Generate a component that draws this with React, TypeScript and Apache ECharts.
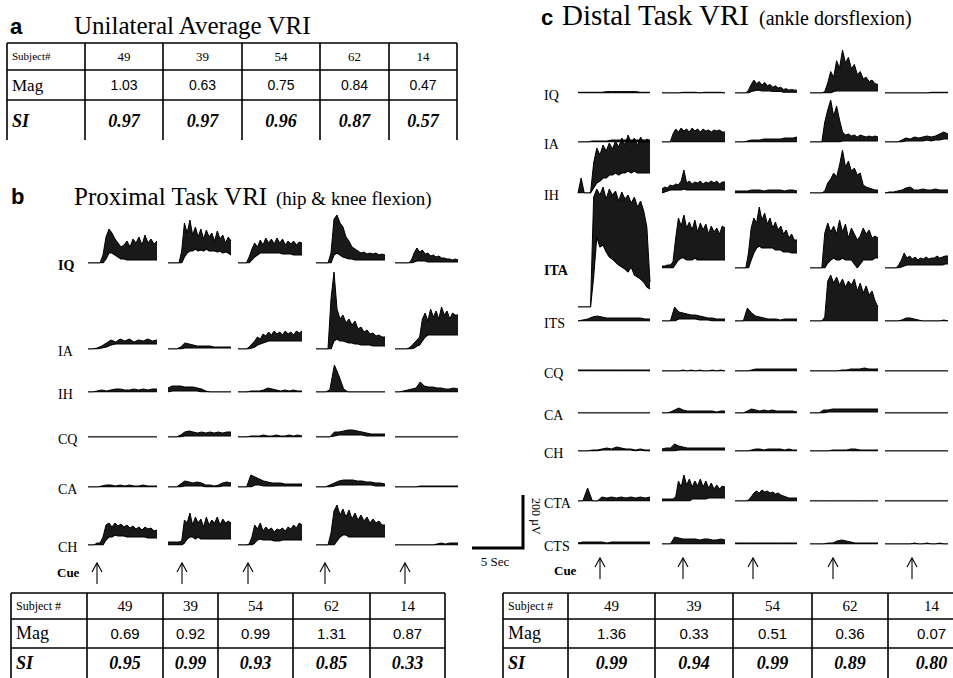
import React, { useEffect, useRef } from "react";
import * as echarts from "echarts";

// ---------- table values ----------
const SUBJECTS = ["49", "39", "54", "62", "14"];
const A_MAG = ["1.03", "0.63", "0.75", "0.84", "0.47"];
const A_SI = ["0.97", "0.97", "0.96", "0.87", "0.57"];
const B_MAG = ["0.69", "0.92", "0.99", "1.31", "0.87"];
const B_SI = ["0.95", "0.99", "0.93", "0.85", "0.33"];
const C_MAG = ["1.36", "0.33", "0.51", "0.36", "0.07"];
const C_SI = ["0.99", "0.94", "0.99", "0.89", "0.80"];

// ---------- EMG envelopes (upper / lower edge of each trace; 52 units = 200 µV) ----------
// Proximal task (hip & knee flexion); one array per subject 49, 39, 54, 62, 14
const P_IQ_HI = [
  [0, 0, 0, 0, 0, 8, 26, 34, 30, 24, 20, 16, 18, 22, 16, 24, 20, 26, 18, 28, 20, 24, 19, 22],
  [0, 0, 0, 0, 0, 12, 40, 30, 43, 28, 36, 26, 34, 24, 33, 26, 30, 22, 32, 24, 28, 20, 26, 22],
  [0, 0, 0, 0, 6, 14, 20, 16, 23, 18, 25, 20, 24, 19, 25, 20, 24, 18, 22, 19, 22, 18, 21, 20],
  [0, 0, 0, 0, 0, 10, 44, 48, 40, 36, 26, 22, 16, 14, 12, 10, 11, 9, 10, 9, 10, 8, 9, 8],
  [0, 0, 0, 0, 0, 0, 3, 10, 15, 11, 13, 9, 10, 7, 8, 6, 7, 5, 5, 4, 4, 3, 4, 3],
];
const P_IQ_LO = [
  [0, 0, 0, 0, 0, 0, 4, 10, 10, 8, 6, 4, 4, 3, 3, 3, 3, 3, 3, 3, 3, 3, 3, 3],
  [0, 0, 0, 0, 0, 0, 6, 10, 12, 12, 14, 12, 13, 12, 14, 12, 12, 12, 11, 12, 10, 11, 10, 8],
  [0, 0, 0, 0, 0, 3, 6, 8, 10, 10, 10, 10, 10, 10, 10, 10, 9, 9, 9, 9, 8, 8, 8, 8],
  [0, 0, 0, 0, 0, 0, 8, 10, 8, 6, 5, 4, 4, 3, 3, 3, 3, 3, 3, 3, 3, 3, 3, 3],
  [0, 0, 0, 0, 0, 0, 0, 1, 2, 2, 2, 2, 1, 1, 1, 1, 1, 1, 1, 1, 1, 1, 1, 1],
];
const P_IA_HI = [
  [0, 0, 1, 3, 6, 9, 7, 10, 8, 10, 7, 9, 8, 10, 8, 9],
  [0, 0, 0, 2, 6, 5, 4, 3, 3, 3, 3, 2, 2, 2, 2, 2],
  [0, 0, 0, 0, 2, 5, 8, 12, 10, 15, 13, 17, 14, 18, 15, 17, 14, 18, 15, 17, 14, 18, 16, 18],
  [0, 0, 0, 0, 0, 50, 77, 40, 30, 34, 26, 30, 24, 28, 20, 22, 17, 19, 15, 16, 13, 14, 12, 12],
  [0, 0, 0, 0, 0, 1, 3, 6, 9, 12, 30, 36, 28, 40, 32, 38, 30, 42, 34, 38, 30, 36, 34, 34],
];
const P_IA_LO = [
  [0, 0, 0, 1, 2, 4, 5, 5, 5, 5, 5, 5, 5, 5, 5, 5],
  [0, 0, 0, 0, 1, 1, 1, 1, 1, 1, 1, 1, 1, 1, 1, 1],
  [0, 0, 0, 0, 0, 1, 2, 4, 5, 6, 7, 8, 8, 8, 8, 8, 8, 8, 8, 8, 8, 8, 8, 8],
  [0, 0, 0, 0, 0, 0, 8, 10, 8, 8, 7, 6, 6, 5, 5, 4, 4, 4, 4, 3, 3, 3, 3, 3],
  [0, 0, 0, 0, 0, 0, 0, 1, 3, 4, 8, 12, 14, 14, 14, 14, 14, 14, 14, 14, 14, 14, 14, 14],
];
const P_IH_HI = [
  [0, 0, 1, 2, 1, 2, 3, 3, 2, 2, 3, 2, 3, 2, 3, 3],
  [4, 6, 6, 6, 5, 5, 5, 4, 3, 1, 0, 0, 0, 0, 0, 0],
  [0, 0, 0, 1, 1, 1, 2, 4, 3, 2, 1, 2, 1, 2, 1, 1],
  [0, 0, 0, 2, 27, 16, 3, 0, 0, 0, 0, 0, 0, 0, 0, 0],
  [0, 0, 1, 2, 3, 4, 10, 6, 5, 5, 4, 4, 3, 3, 4, 3],
];
const P_IH_LO = [null, [0, 1, 1, 1, 1, 1, 1, 1, 0, 0, 0, 0, 0, 0, 0, 0], null, null, null];
const P_CQ_HI = [
  [0, 0, 0, 0, 0, 0, 0, 0, 0, 0, 0, 0, 0, 0, 0, 0],
  [0, 0, 0, 2, 5, 6, 5, 4, 5, 4, 5, 4, 5, 4, 5, 5],
  [0, 0, 0, 1, 1, 1, 2, 1, 1, 2, 1, 1, 2, 1, 2, 1],
  [0, 0, 0, 0, 5, 5, 6, 7, 7, 6, 5, 4, 3, 3, 3, 3],
  [0, 0, 0, 0, 0, 0, 0, 0, 0, 0, 0, 0, 0, 0, 0, 0],
];
const P_CQ_LO = [
  null,
  [0, 0, 0, 0, 1, 1, 1, 1, 1, 1, 1, 1, 1, 1, 1, 1],
  null,
  [0, 0, 0, 0, 1, 2, 2, 2, 2, 2, 2, 1, 1, 1, 1, 1],
  null,
];
const P_CA_HI = [
  [0, 0, 0, 1, 2, 2, 1, 2, 1, 2, 1, 1, 2, 1, 1, 1],
  [0, 0, 0, 3, 6, 5, 4, 5, 4, 2, 2, 1, 2, 4, 5, 4],
  [0, 0, 0, 12, 10, 8, 6, 5, 4, 4, 4, 3, 3, 3, 3, 3],
  [0, 0, 0, 2, 4, 6, 7, 7, 7, 6, 6, 5, 5, 4, 4, 3],
  [0, 0, 0, 0, 0, 0, 1, 1, 1, 1, 1, 1, 1, 1, 1, 1],
];
const P_CA_LO = [
  null,
  [0, 0, 0, 0, 1, 1, 1, 1, 1, 0, 0, 0, 0, 1, 1, 1],
  [0, 0, 0, 0, 2, 2, 1, 1, 1, 1, 1, 1, 1, 1, 1, 1],
  [0, 0, 0, 0, 1, 2, 2, 2, 2, 2, 2, 2, 2, 1, 1, 1],
  null,
];
const P_CH_HI = [
  [0, 0, 0, 2, 2, 8, 20, 22, 18, 22, 19, 21, 18, 20, 17, 19, 16, 18, 15, 18, 16, 17, 14, 15],
  [3, 3, 3, 3, 3, 4, 25, 22, 32, 20, 28, 22, 26, 18, 28, 20, 25, 22, 28, 20, 26, 22, 24, 22],
  [0, 0, 0, 0, 1, 8, 20, 16, 22, 14, 18, 15, 17, 13, 16, 15, 17, 14, 18, 16, 20, 17, 22, 20],
  [0, 0, 0, 0, 0, 12, 34, 40, 30, 36, 28, 35, 26, 32, 25, 30, 24, 28, 22, 26, 22, 24, 20, 20],
  [0, 0, 0, 0, 0, 0, 0, 0, 0, 0, 1, 2, 1, 2, 2, 2],
];
const P_CH_LO = [
  [0, 0, 0, 0, 0, 0, 5, 8, 8, 10, 9, 9, 9, 8, 8, 8, 8, 8, 8, 8, 7, 7, 7, 7],
  [0, 0, 0, 0, 0, 0, 2, 6, 8, 8, 6, 8, 6, 6, 6, 6, 6, 6, 6, 6, 6, 6, 6, 6],
  [0, 0, 0, 0, 0, 0, 2, 5, 6, 5, 5, 5, 5, 4, 4, 4, 5, 5, 5, 5, 5, 5, 5, 5],
  [0, 0, 0, 0, 0, 0, 0, 4, 8, 10, 10, 8, 8, 8, 8, 8, 8, 8, 8, 8, 8, 8, 8, 8],
  null,
];

// Distal task (ankle dorsiflexion)
const D_IQ_HI = [
  [1, 1, 1, 1, 1, 1, 2, 2, 2, 2, 2, 2, 2, 1, 1, 1],
  [0, 0, 0, 0, 0, 1, 1, 1, 1, 0, 1, 1, 1, 1, 1, 0],
  [0, 0, 0, 0, 0, 4, 12, 18, 13, 16, 11, 15, 10, 12, 8, 10, 7, 8, 5, 6, 4, 5, 4, 4],
  [0, 0, 0, 0, 0, 2, 14, 30, 22, 45, 35, 60, 42, 50, 34, 40, 26, 30, 20, 22, 16, 18, 13, 12],
  [0, 0, 0, 0, 0, 0, 0, 0, 0, 0, 0, 1, 1, 1, 1, 1],
];
const D_IQ_LO = [
  null,
  null,
  [0, 0, 0, 0, 0, 0, 2, 3, 4, 4, 3, 3, 3, 3, 2, 2, 2, 2, 1, 1, 1, 1, 1, 1],
  [0, 0, 0, 0, 0, 0, 0, 0, 2, 3, 3, 3, 3, 3, 3, 3, 3, 3, 3, 3, 3, 3, 3, 3],
  null,
];
const D_IA_HI = [
  [0, 0, 0, 1, 1, 1, 1, 2, 2, 2, 2, 2, 2, 2, 2, 2],
  [0, 0, 0, 0, 8, 13, 10, 14, 11, 13, 10, 14, 11, 13, 10, 13, 11, 12, 10, 12, 11, 12, 10, 10],
  [0, 0, 0, 1, 2, 2, 2, 3, 3, 3, 3, 3, 4, 4, 4, 5],
  [0, 0, 0, 0, 0, 20, 32, 42, 26, 36, 22, 10, 7, 8, 6, 7, 5, 7, 6, 5, 6, 5, 6, 5],
  [0, 0, 0, 0, 2, 4, 3, 5, 4, 5, 6, 5, 6, 8, 10, 8],
];
const D_IA_LO = [
  null,
  null,
  null,
  [0, 0, 0, 0, 0, 0, 0, 0, 0, 0, 0, 1, 1, 1, 1, 1, 1, 1, 1, 1, 1, 1, 1, 1],
  [0, 0, 0, 0, 0, 1, 1, 1, 1, 1, 2, 1, 2, 2, 3, 3],
];
const D_IH_HI = [
  [0, 15, 0, 0, 0, 30, 45, 38, 48, 42, 50, 44, 52, 46, 55, 48, 58, 50, 55, 48, 56, 50, 54, 52],
  [4, 6, 5, 8, 7, 9, 8, 12, 23, 10, 12, 9, 11, 10, 12, 9, 11, 10, 12, 10, 12, 9, 11, 11],
  [2, 2, 2, 2, 3, 3, 3, 2, 3, 3, 3, 3, 2, 3, 3, 2],
  [0, 0, 0, 0, 0, 2, 10, 14, 20, 16, 28, 43, 26, 32, 22, 25, 18, 20, 8, 6, 5, 4, 3, 3],
  [0, 1, 1, 2, 3, 5, 6, 3, 3, 4, 3, 3, 4, 3, 3, 3],
];
const D_IH_LO = [
  [0, 0, 0, 0, 0, 5, 10, 12, 15, 15, 18, 18, 20, 18, 20, 20, 22, 20, 22, 20, 20, 20, 20, 20],
  [0, 1, 2, 3, 3, 3, 3, 3, 4, 3, 3, 3, 3, 3, 3, 3, 3, 3, 3, 3, 3, 3, 3, 3],
  null,
  null,
  null,
];
const D_ITA_HI = [
  [0, 0, 0, 0, 0, 110, 118, 112, 120, 108, 118, 112, 116, 106, 115, 108, 112, 104, 110, 100, 106, 96, 80, 25],
  [2, 2, 3, 3, 6, 30, 50, 42, 53, 40, 46, 38, 48, 36, 45, 38, 44, 34, 42, 36, 40, 34, 42, 40],
  [0, 0, 0, 0, 0, 15, 40, 50, 45, 61, 48, 55, 44, 50, 40, 46, 38, 42, 34, 38, 30, 34, 28, 28],
  [0, 0, 0, 0, 0, 35, 45, 36, 42, 34, 48, 36, 44, 30, 40, 34, 28, 32, 40, 34, 38, 30, 32, 30],
  [0, 0, 0, 0, 0, 3, 8, 15, 10, 12, 9, 11, 8, 10, 9, 11, 9, 10, 10, 12, 10, 11, 12, 12],
];
const D_ITA_LO = [
  [0, 0, 0, 0, 0, 30, 70, 60, 62, 55, 50, 48, 45, 42, 40, 38, 35, 40, 32, 30, 28, 25, 20, 18],
  [0, 0, 0, 0, 0, 4, 8, 10, 10, 8, 8, 8, 10, 8, 8, 8, 8, 8, 8, 8, 8, 8, 8, 8],
  [0, 0, 0, 0, 0, 0, 8, 15, 20, 22, 20, 20, 20, 20, 20, 18, 18, 18, 16, 16, 16, 15, 15, 15],
  [0, 0, 0, 0, 0, 0, 5, 8, 10, 8, 8, 10, 8, 8, 8, 4, 0, 4, 8, 8, 8, 8, 10, 10],
  [0, 0, 0, 0, 0, 0, 1, 2, 3, 3, 3, 3, 3, 3, 3, 3, 3, 3, 3, 3, 3, 3, 4, 4],
];
const D_ITS_HI = [
  [0, 1, 2, 4, 5, 4, 3, 3, 3, 3, 3, 3, 3, 3, 2, 2],
  [0, 0, 0, 14, 9, 8, 7, 6, 6, 5, 4, 3, 3, 2, 2, 2],
  [0, 0, 0, 13, 8, 5, 4, 3, 2, 2, 2, 1, 2, 2, 2, 2],
  [0, 0, 0, 0, 0, 4, 40, 46, 38, 44, 36, 42, 34, 40, 36, 42, 30, 38, 28, 35, 26, 30, 20, 14],
  [0, 0, 0, 0, 1, 3, 3, 2, 1, 0, 0, 0, 0, 0, 1, 0],
];
const D_ITS_LO = [null, [0, 0, 0, 0, 2, 2, 2, 2, 2, 1, 1, 1, 0, 0, 0, 0], null, null, null];
const D_CQ_HI = [
  [1, 1, 1, 1, 1, 1, 1, 1, 1, 1, 1, 1, 1, 1, 1, 1],
  [0, 0, 0, 0, 0, 1, 0, 1, 0, 1, 0, 0, 1, 0, 1, 0],
  [0, 0, 0, 0, 1, 2, 2, 2, 2, 2, 2, 2, 2, 2, 2, 2],
  [0, 0, 0, 0, 0, 0, 0, 1, 1, 2, 2, 2, 3, 2, 2, 2],
  [0, 0, 0, 0, 0, 0, 0, 0, 0, 0, 0, 0, 0, 0, 0, 0],
];
const D_CA_HI = [
  [0, 0, 0, 0, 0, 0, 0, 0, 0, 0, 0, 0, 0, 0, 0, 0],
  [0, 0, 1, 3, 5, 3, 2, 2, 2, 2, 2, 2, 2, 1, 2, 2],
  [0, 0, 0, 2, 4, 3, 2, 3, 2, 3, 2, 2, 2, 2, 2, 1],
  [0, 0, 0, 3, 3, 4, 4, 4, 4, 4, 4, 4, 4, 4, 4, 4],
  [0, 0, 0, 0, 0, 0, 0, 0, 0, 0, 0, 0, 0, 0, 0, 0],
];
const D_CA_LO = [null, null, null, [0, 0, 0, 0, 1, 1, 1, 1, 1, 1, 1, 1, 1, 1, 1, 1], null];
const D_CH_HI = [
  [0, 0, 0, 1, 1, 2, 3, 2, 4, 3, 2, 2, 1, 2, 1, 1],
  [2, 3, 3, 7, 5, 4, 3, 3, 3, 3, 3, 3, 3, 3, 3, 3],
  [0, 0, 0, 0, 1, 2, 2, 1, 2, 2, 2, 2, 1, 2, 1, 1],
  [0, 0, 0, 0, 0, 1, 1, 1, 1, 2, 2, 1, 1, 1, 1, 1],
  [0, 0, 0, 0, 0, 0, 0, 0, 0, 0, 0, 0, 0, 0, 0, 0],
];
const D_CH_LO = [
  [0, 0, 0, 0, 0, 1, 1, 1, 1, 1, 1, 1, 0, 1, 0, 0],
  [0, 0, 0, 0, 1, 1, 1, 1, 1, 1, 1, 1, 1, 1, 1, 1],
  null,
  null,
  null,
];
const D_CTA_HI = [
  [0, 0, 13, 0, 0, 4, 3, 4, 3, 4, 3, 4, 3, 4, 3, 4],
  [2, 2, 2, 2, 2, 4, 20, 14, 26, 16, 22, 14, 20, 15, 22, 14, 20, 13, 18, 12, 16, 12, 15, 14],
  [0, 0, 0, 0, 0, 1, 4, 8, 10, 8, 11, 9, 10, 8, 9, 7, 8, 6, 5, 4, 3, 3, 3, 3],
  [0, 0, 0, 0, 0, 0, 0, 0, 0, 0, 0, 0, 0, 0, 0, 0],
  [0, 0, 0, 0, 0, 0, 0, 0, 0, 0, 0, 0, 0, 0, 0, 0],
];
const D_CTA_LO = [
  null,
  [0, 0, 0, 0, 0, 0, 0, 0, 0, 0, 0, 2, 2, 2, 2, 2, 2, 3, 3, 3, 3, 3, 3, 3],
  null,
  null,
  null,
];
const D_CTS_HI = [
  [1, 2, 2, 2, 2, 2, 1, 2, 2, 2, 2, 2, 2, 2, 2, 2],
  [0, 0, 0, 7, 6, 5, 5, 5, 5, 4, 5, 5, 4, 4, 5, 4],
  [1, 1, 1, 1, 1, 1, 1, 1, 1, 1, 1, 1, 1, 1, 1, 1],
  [0, 0, 0, 0, 1, 1, 3, 4, 3, 2, 1, 1, 1, 1, 1, 1],
  [0, 0, 0, 0, 0, 0, 0, 1, 0, 0, 1, 0, 0, 1, 0, 0],
];

const NONE = [null, null, null, null, null];

// ---------- layout (pixels) ----------
const SERIF = "'Liberation Serif', 'Times New Roman', serif";
const SANS = "'Liberation Sans', Arial, sans-serif";
const NARROW = "'Liberation Sans Narrow', 'Liberation Sans', Arial, sans-serif";
const TRACE_H = 130;

const P_COLS = [[88, 157], [168, 231], [238, 302], [316, 385], [395, 458]];
const D_COLS = [[578, 650], [662, 725], [735, 797], [810, 878], [885, 948]];

const P_ROWS = [
  { name: "IQ", bold: true, base: [263, 263, 263, 263, 263], hi: P_IQ_HI, lo: P_IQ_LO },
  { name: "IA", base: [349, 349, 349, 349, 349], hi: P_IA_HI, lo: P_IA_LO },
  { name: "IH", base: [392, 392, 392, 392, 392], hi: P_IH_HI, lo: P_IH_LO },
  { name: "CQ", base: [437, 437, 437, 437, 437], hi: P_CQ_HI, lo: P_CQ_LO },
  { name: "CA", base: [487, 487, 487, 487, 487], hi: P_CA_HI, lo: P_CA_LO },
  { name: "CH", base: [545, 545, 545, 545, 545], hi: P_CH_HI, lo: P_CH_LO },
];
const D_ROWS = [
  { name: "IQ", base: [93, 93, 93, 93, 93], hi: D_IQ_HI, lo: D_IQ_LO },
  { name: "IA", base: [142, 142, 142, 142, 142], hi: D_IA_HI, lo: D_IA_LO },
  { name: "IH", base: [193, 193, 193, 193, 193], hi: D_IH_HI, lo: D_IH_LO },
  { name: "ITA", bold: true, base: [307, 268, 268, 268, 268], hi: D_ITA_HI, lo: D_ITA_LO },
  { name: "ITS", base: [321, 321, 321, 321, 321], hi: D_ITS_HI, lo: D_ITS_LO },
  { name: "CQ", base: [371, 371, 371, 371, 371], hi: D_CQ_HI, lo: NONE },
  { name: "CA", base: [413, 413, 413, 413, 413], hi: D_CA_HI, lo: D_CA_LO },
  { name: "CH", base: [451, 451, 451, 451, 451], hi: D_CH_HI, lo: D_CH_LO },
  { name: "CTA", base: [501, 501, 501, 501, 501], hi: D_CTA_HI, lo: D_CTA_LO },
  { name: "CTS", base: [544, 544, 544, 544, 544], hi: D_CTS_HI, lo: NONE },
];

const P_ARROWS = [97, 182, 248, 325, 405];
const D_ARROWS = [600, 683, 753, 833, 912];

function buildOption() {
  const grid: any[] = [];
  const xAxis: any[] = [];
  const yAxis: any[] = [];
  const series: any[] = [];
  const graphic: any[] = [];
  let k = 0;

  const addTrace = (x0: number, x1: number, base: number, hi: number[], lo: number[] | null) => {
    grid.push({ left: x0, width: x1 - x0, top: base - TRACE_H, height: TRACE_H });
    xAxis.push({ type: "category", gridIndex: k, show: false, boundaryGap: false, data: hi.map((_, i) => i) });
    yAxis.push({ type: "value", gridIndex: k, show: false, min: 0, max: TRACE_H });
    const low = lo ?? hi.map(() => 0);
    series.push({
      type: "line", xAxisIndex: k, yAxisIndex: k, stack: "t" + k, data: low, symbol: "none",
      lineStyle: { color: "#000", width: 1.1 }, silent: true,
    });
    series.push({
      type: "line", xAxisIndex: k, yAxisIndex: k, stack: "t" + k,
      data: hi.map((v, i) => Math.max(0, v - low[i])), symbol: "none",
      lineStyle: { color: "#000", width: 1 }, areaStyle: { color: "#000", opacity: 0.9 }, silent: true,
    });
    k++;
  };

  P_ROWS.forEach((r) => r.hi.forEach((h, c) => addTrace(P_COLS[c][0], P_COLS[c][1], r.base[c], h, r.lo[c])));
  D_ROWS.forEach((r) => r.hi.forEach((h, c) => addTrace(D_COLS[c][0], D_COLS[c][1], r.base[c], h, r.lo[c])));

  const txt = (x: number, y: number, text: string, o: any = {}) => ({
    type: "text", x, y, silent: true,
    style: { text, fill: "#000", fontFamily: SERIF, fontSize: 14, align: "left", verticalAlign: "middle", ...o },
  });
  const ln = (x1: number, y1: number, x2: number, y2: number, w = 1.3) => ({
    type: "line", silent: true, shape: { x1, y1, x2, y2 }, style: { stroke: "#000", lineWidth: w },
  });

  // panel letters and titles
  graphic.push(txt(10, 26, "a", { fontFamily: SANS, fontWeight: "bold", fontSize: 22 }));
  graphic.push(txt(74, 25, "Unilateral Average VRI", { fontSize: 25 }));
  graphic.push(txt(11, 196, "b", { fontFamily: SANS, fontWeight: "bold", fontSize: 22 }));
  graphic.push(txt(74, 196, "Proximal Task VRI", { fontSize: 25 }));
  graphic.push(txt(276, 198, "(hip & knee flexion)", { fontSize: 19 }));
  graphic.push(txt(541, 17, "c", { fontFamily: SANS, fontWeight: "bold", fontSize: 22 }));
  graphic.push(txt(562, 15, "Distal Task VRI", { fontSize: 29 }));
  graphic.push(txt(759, 18, "(ankle dorsflexion)", { fontSize: 20 }));

  // tables
  const table = (xs: number[], ys: number[], bottom: number, cy: number[], mag: string[], si: string[], small: boolean) => {
    const right = Math.min(xs[xs.length - 1], 953);
    ys.forEach((y) => graphic.push(ln(xs[0], y, right, y)));
    xs.forEach((x) => { if (x <= 953) graphic.push(ln(x, ys[0], x, bottom, 1.6)); });
    graphic.push(txt(xs[0] + 5, cy[0], small ? "Subject#" : "Subject #", { fontSize: small ? 11 : 12 }));
    graphic.push(txt(xs[0] + 5, cy[1], "Mag", { fontSize: small ? 17 : 18 }));
    graphic.push(txt(xs[0] + 5, cy[2], "SI", { fontSize: 18, fontWeight: "bold", fontStyle: "italic" }));
    SUBJECTS.forEach((s, i) => {
      const cx = (xs[i + 1] + xs[i + 2]) / 2;
      graphic.push(txt(cx, cy[0], s, { align: "center", fontSize: small ? 13 : 15 }));
      graphic.push(txt(cx, cy[1], mag[i], { align: "center", fontFamily: NARROW, fontSize: small ? 14 : 15 }));
      graphic.push(txt(cx, cy[2], si[i], { align: "center", fontSize: 18, fontWeight: "bold", fontStyle: "italic" }));
    });
  };
  table([7, 85, 163, 242, 320, 389, 457], [43, 70, 100], 140, [56, 85, 121], A_MAG, A_SI, true);
  table([11, 87, 163, 218, 293, 370, 445], [593, 619, 648], 678, [606, 633, 663], B_MAG, B_SI, false);
  table([503, 568, 655, 733, 812, 888, 975], [593, 619, 648], 678, [606, 633, 663], C_MAG, C_SI, false);

  // row labels
  P_ROWS.forEach((r) => graphic.push(txt(58, r.base[1] + 2, r.name, { fontWeight: r.bold ? "bold" : "normal" })));
  D_ROWS.forEach((r) => graphic.push(txt(544, r.base[1] + 2, r.name, { fontWeight: r.bold ? "bold" : "normal" })));
  graphic.push(txt(57, 572, "Cue", { fontWeight: "bold", fontSize: 13 }));
  graphic.push(txt(554, 570, "Cue", { fontWeight: "bold", fontSize: 13 }));

  // cue arrows
  const arrow = (x: number, tip: number, len: number) => {
    graphic.push(ln(x, tip, x, tip + len, 1.1));
    graphic.push({
      type: "polyline", silent: true,
      shape: { points: [[x - 5, tip + 9], [x, tip], [x + 5, tip + 9]] },
      style: { stroke: "#000", lineWidth: 1.1, fill: null },
    });
  };
  P_ARROWS.forEach((x) => arrow(x, 563, 21));
  D_ARROWS.forEach((x) => arrow(x, 558, 21));

  // scale bar
  graphic.push({
    type: "polyline", silent: true,
    shape: { points: [[472, 548], [523, 548], [523, 495]] },
    style: { stroke: "#000", lineWidth: 3, fill: null },
  });
  graphic.push(txt(495, 561, "5 Sec", { align: "center", fontSize: 13 }));
  graphic.push({
    type: "text", x: 536, y: 498, rotation: -Math.PI / 2, silent: true,
    style: { text: "200 µV", fill: "#000", fontFamily: SERIF, fontSize: 12, align: "left", verticalAlign: "middle" },
  });

  return {
    animation: false,
    backgroundColor: "#fff",
    grid, xAxis, yAxis, series, graphic,
  };
}

export default function App() {
  const ref = useRef<HTMLDivElement>(null);
  useEffect(() => {
    if (!ref.current) return;
    const chart = echarts.init(ref.current, undefined, { renderer: "svg" });
    chart.setOption(buildOption() as any);
    return () => chart.dispose();
  }, []);
  return (
    <div
      ref={ref}
      style={{ position: "absolute", left: 0, top: 0, width: 953, height: 678, background: "#fff" }}
    />
  );
}
